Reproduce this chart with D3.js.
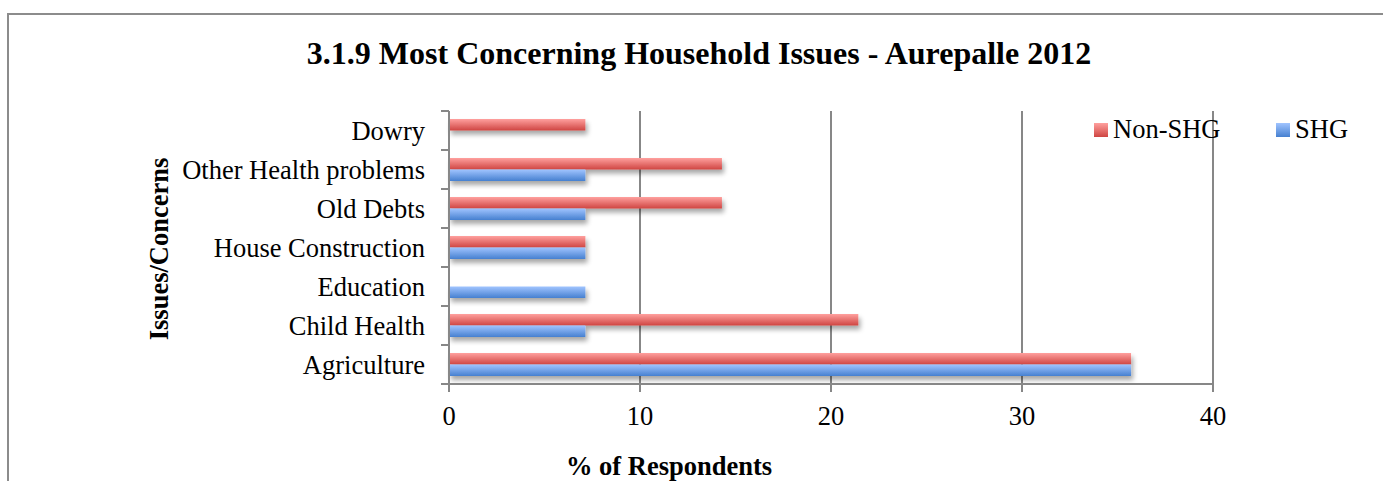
<!DOCTYPE html>
<html><head><meta charset="utf-8">
<script src="https://cdn.jsdelivr.net/npm/d3@7"></script>
<style>body{margin:0;background:#fff}svg{display:block}</style>
</head><body>
<svg id="c" width="1383" height="481"></svg>
<script>
const categories = ["Dowry","Other Health problems","Old Debts","House Construction","Education","Child Health","Agriculture"];
const series = ["Non-SHG","SHG"];
const nonShg = [7.14,14.29,14.29,7.14,0,21.43,35.71];
const shg = [0,7.14,7.14,7.14,7.14,7.14,35.71];
const xTicks = [0,10,20,30,40];

const svg = d3.select("#c");
const font = "'Liberation Serif','Times New Roman',serif";
const L=449, R=1213, T=111, B=384;

const defs = svg.append("defs");
function grad(id, c1, c2){
  const g = defs.append("linearGradient").attr("id",id).attr("x1",0).attr("y1",0).attr("x2",0).attr("y2",1);
  g.append("stop").attr("offset","0%").attr("stop-color",c1);
  g.append("stop").attr("offset","100%").attr("stop-color",c2);
}
grad("gRed","#ffa09e","#cf4542");
grad("gBlue","#a0c4ff","#4680d0");
const f = defs.append("filter").attr("id","sh").attr("x","-5%").attr("y","-50%").attr("width","115%").attr("height","250%");
f.append("feGaussianBlur").attr("in","SourceAlpha").attr("stdDeviation",2.8);
f.append("feOffset").attr("dx",2).attr("dy",3.5).attr("result","o");
f.append("feComponentTransfer").append("feFuncA").attr("type","linear").attr("slope",0.35);
const m = f.append("feMerge"); m.append("feMergeNode"); m.append("feMergeNode").attr("in","SourceGraphic");

// frame
svg.append("rect").attr("x",8).attr("y",14).attr("width",1400).attr("height",500)
  .attr("fill","none").attr("stroke","#8c8c8c").attr("stroke-width",2);

const x = d3.scaleLinear().domain([0,40]).range([L,R]);
const y = d3.scaleBand().domain(categories).range([T,B]).padding(0);
const ys = d3.scaleBand().domain(series).range([0,y.bandwidth()]).paddingInner(0).paddingOuter(0.696);

// gridlines
svg.append("g").selectAll("line").data(xTicks.slice(1)).join("line")
  .attr("x1",d=>x(d)).attr("x2",d=>x(d)).attr("y1",T).attr("y2",B)
  .attr("stroke","#878787").attr("stroke-width",2);

// bars
const rows = categories.map((c,i)=>({c, vals:[{s:"Non-SHG",v:nonShg[i]},{s:"SHG",v:shg[i]}]}));
const g = svg.append("g").attr("filter","url(#sh)");
rows.forEach(r=>{
  g.selectAll(null).data(r.vals.filter(d=>d.v>0)).join("rect")
    .attr("x",x(0)).attr("y",d=>y(r.c)+ys(d.s))
    .attr("width",d=>x(d.v)-x(0)).attr("height",ys.bandwidth())
    .attr("fill",d=>d.s==="Non-SHG"?"url(#gRed)":"url(#gBlue)");
});

// axes lines
const ax = svg.append("g").attr("stroke","#878787").attr("stroke-width",2);
ax.append("line").attr("x1",L).attr("x2",L).attr("y1",T).attr("y2",B+1);
ax.append("line").attr("x1",L-1).attr("x2",R+1).attr("y1",B).attr("y2",B);
const bounds = categories.map(c=>y(c)).concat([B]);
ax.selectAll(null).data(bounds).join("line").attr("x1",L-8).attr("x2",L).attr("y1",d=>d).attr("y2",d=>d);
ax.selectAll(null).data(xTicks).join("line").attr("x1",d=>x(d)).attr("x2",d=>x(d)).attr("y1",B).attr("y2",B+8);

// labels
svg.append("g").selectAll("text").data(categories).join("text")
  .attr("x",425).attr("y",d=>y(d)+y.bandwidth()/2+9)
  .attr("text-anchor","end").attr("font-family",font).attr("font-size",26.5).text(d=>d);
svg.append("g").selectAll("text").data(xTicks).join("text")
  .attr("x",d=>x(d)).attr("y",425).attr("text-anchor","middle")
  .attr("font-family",font).attr("font-size",26.5).text(d=>d);

svg.append("text").attr("x",699).attr("y",64).attr("text-anchor","middle")
  .attr("font-family",font).attr("font-size",32).attr("font-weight","bold")
  .text("3.1.9 Most Concerning Household Issues - Aurepalle 2012");
svg.append("text").attr("x",669).attr("y",475).attr("text-anchor","middle")
  .attr("font-family",font).attr("font-size",26.5).attr("font-weight","bold").text("% of Respondents");
svg.append("text").attr("transform","translate(168,249) rotate(-90)").attr("text-anchor","middle")
  .attr("font-family",font).attr("font-size",26.5).attr("font-weight","bold").text("Issues/Concerns");

// legend
const leg = [{s:"Non-SHG",x:1094,f:"url(#gRed)"},{s:"SHG",x:1276,f:"url(#gBlue)"}];
leg.forEach(d=>{
  svg.append("rect").attr("x",d.x).attr("y",123).attr("width",14).attr("height",14).attr("fill",d.f);
  svg.append("text").attr("x",d.x+19).attr("y",138).attr("font-family",font).attr("font-size",26.5).text(d.s);
});
</script>
</body></html>
